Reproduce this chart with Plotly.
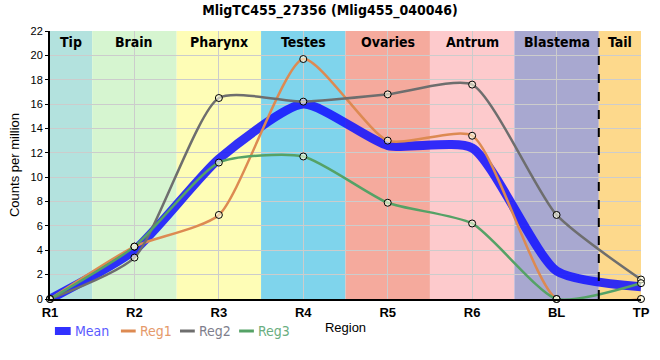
import plotly.graph_objects as go

regions = ["R1", "R2", "R3", "R4", "R5", "R6", "BL", "TP"]
mean_vals = [0.0, 4.0, 11.5, 16.0, 12.6, 12.4, 2.3, 1.0]
reg1_vals = [0.0, 4.3, 6.9, 19.7, 13.0, 13.4, 0.0, 0.0]
reg2_vals = [0.0, 3.4, 16.5, 16.2, 16.8, 17.6, 6.9, 1.6]
reg3_vals = [0.0, 4.3, 11.2, 11.7, 7.9, 6.2, 0.0, 1.3]

band_names = ["Tip", "Brain", "Pharynx", "Testes", "Ovaries", "Antrum", "Blastema", "Tail"]
band_start = [0, 0.5, 1.5, 2.5, 3.5, 4.5, 5.5, 6.5]
band_end = [0.5, 1.5, 2.5, 3.5, 4.5, 5.5, 6.5, 7]
band_colors = ["#b3e2de", "#d6f5d0", "#fefdb6", "#7fd4ec", "#f5aa9d", "#fdcacc", "#a8a8d0", "#fdd98c"]

FONT = "Liberation Sans Narrow, DejaVu Sans Condensed, Liberation Sans, Arial"
TICKFONT = "Liberation Sans, Arial"
x = list(range(len(regions)))
SM = 0.6

# plot area in pixels (for legend placement helpers)
L, R, T, B = 50, 10, 31, 61
W, H = 660, 360
PW, PH = W - L - R, H - T - B


def px(xp):
    return (xp - L) / PW


def py(yp):
    return (H - B - yp) / PH


fig = go.Figure()

fig.add_trace(go.Scatter(
    x=x, y=mean_vals, mode="lines", name="Mean", showlegend=False,
    line=dict(color="rgba(20,20,255,0.88)", width=9, shape="spline", smoothing=SM),
    cliponaxis=False))

series = [
    ("Reg1", reg1_vals, "#dd8a52", "#e59a6a"),
    ("Reg2", reg2_vals, "#6e6e6e", "#7e7e8c"),
    ("Reg3", reg3_vals, "#55a266", "#6aae80"),
]
for name, vals, col, tcol in series:
    fig.add_trace(go.Scatter(
        x=x, y=vals, mode="lines", name=name, showlegend=False,
        line=dict(color=col, width=2.5, shape="spline", smoothing=SM),
        cliponaxis=False))
for name, vals, col, tcol in series:
    fig.add_trace(go.Scatter(
        x=x, y=vals, mode="markers", showlegend=False, name=name,
        marker=dict(symbol="circle", size=7, color="rgba(255,255,230,0.6)",
                    line=dict(width=1, color="black")),
        cliponaxis=False))

shapes = []
annotations = []
for nm, s, e, c in zip(band_names, band_start, band_end, band_colors):
    shapes.append(dict(type="rect", xref="x", yref="paper", x0=s, x1=e, y0=0, y1=1,
                       fillcolor=c, line=dict(width=0), layer="below"))
    annotations.append(dict(x=(s + e) / 2, y=1, xref="x", yref="paper", text=f"<b>{nm}</b>",
                            showarrow=False, yanchor="top", yshift=-1,
                            font=dict(family=FONT, size=14, color="black")))
shapes.append(dict(type="line", xref="x", yref="paper", x0=6.5, x1=6.5, y0=0, y1=1,
                   line=dict(color="black", width=2, dash="dash")))

# legend (drawn manually to match the compact reference legend)
LY = 331
shapes.append(dict(type="rect", xref="paper", yref="paper", x0=px(55), x1=px(71),
                   y0=py(LY + 4), y1=py(LY - 4), fillcolor="rgba(20,20,255,0.88)",
                   line=dict(width=0)))
annotations.append(dict(x=px(73), y=py(LY), xref="paper", yref="paper", text="Mean",
                        showarrow=False, xanchor="left", yanchor="middle",
                        font=dict(family=FONT, size=14, color="#5a5aff")))
leg_x = [122, 182, 242]
for (name, vals, col, tcol), lx in zip(series, leg_x):
    shapes.append(dict(type="line", xref="paper", yref="paper", x0=px(lx), x1=px(lx + 15),
                       y0=py(LY), y1=py(LY), line=dict(color=col, width=3)))
    annotations.append(dict(x=px(lx + 17), y=py(LY), xref="paper", yref="paper", text=name,
                            showarrow=False, xanchor="left", yanchor="middle",
                            font=dict(family=FONT, size=14, color=tcol)))

fig.update_layout(
    width=W, height=H,
    margin=dict(l=L, r=R, t=T, b=B),
    paper_bgcolor="white", plot_bgcolor="white",
    title=dict(text="<b>MligTC455_27356 (Mlig455_040046)</b>", x=0.5, xanchor="center",
               y=0.985, yanchor="top", font=dict(family=FONT, size=14, color="black")),
    shapes=shapes, annotations=annotations,
    showlegend=False,
    xaxis=dict(range=[0, 7], tickvals=x, ticktext=[f"<b>{r}</b>" for r in regions],
               showgrid=True, gridcolor="#cccccc", gridwidth=1,
               showline=True, linecolor="black", linewidth=2, zeroline=False,
               ticks="", tickfont=dict(family=TICKFONT, size=13, color="black"),
               title=dict(text="Region", standoff=4, font=dict(family=TICKFONT, size=13, color="black"))),
    yaxis=dict(range=[0, 22], dtick=2, showgrid=True, gridcolor="#cccccc", gridwidth=1,
               showline=True, linecolor="black", linewidth=2, zeroline=False,
               ticks="outside", ticklen=3, tickcolor="black",
               tickfont=dict(family=TICKFONT, size=11, color="black"),
               title=dict(text="Counts per million", standoff=8,
                          font=dict(family=TICKFONT, size=13, color="black"))),
)

fig.write_html("out.html", config={"displayModeBar": False},
               post_script="document.body.style.margin='0px';")
